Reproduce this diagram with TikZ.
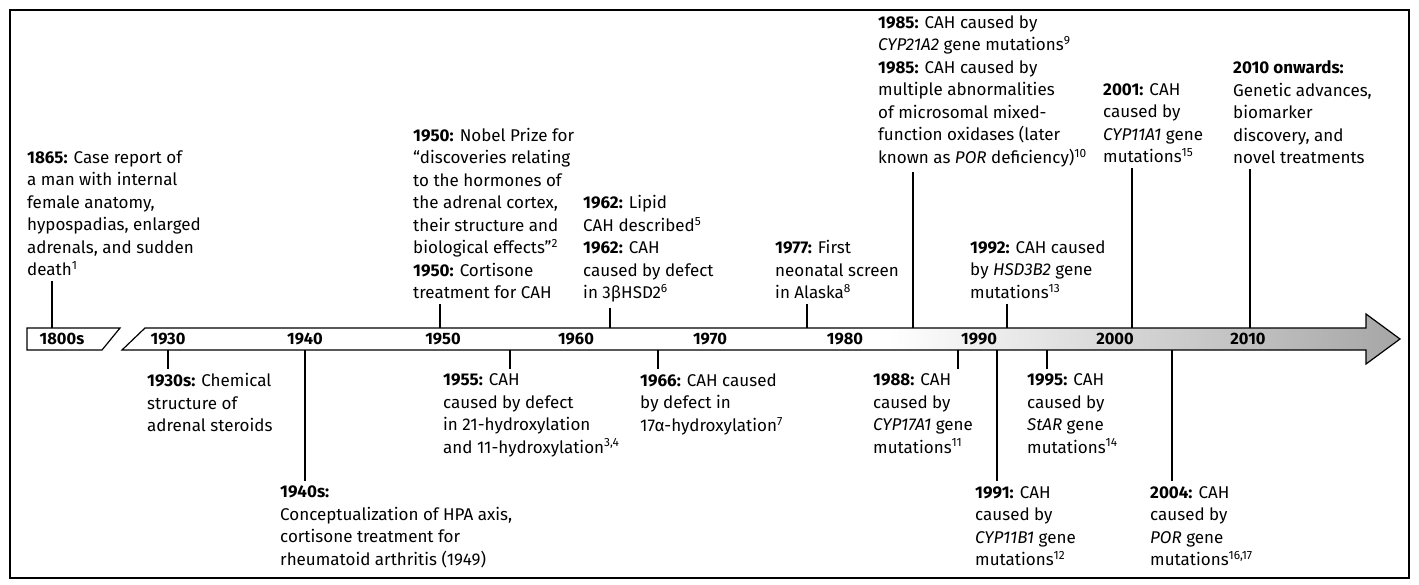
\documentclass[tikz,border=0pt]{standalone}
\usepackage{fontspec}
\setmainfont{Fira Sans}
\pgfdeclarehorizontalshading{barshade}{100bp}{color(0bp)=(white); color(25bp)=(white); color(55bp)=(white); color(75bp)=(black!35); color(100bp)=(black!35)}
\begin{document}
\begin{tikzpicture}[x=1pt,y=-1pt,
  txt/.style={anchor=north west, align=left, inner sep=0pt, font=\fontsize{17}{22.5}\selectfont},
  conn/.style={line width=1.6pt, black},
  ticklbl/.style={font=\fontsize{16.5}{20}\selectfont\bfseries, inner sep=0pt},
  barline/.style={line width=1.2pt, draw=black}
]
\useasboundingbox (0,0) rectangle (1419,584);
\draw[line width=1.5pt] (10,10) rectangle (1409,578);

% timeline bar
\draw[barline, fill=white] (27,328) -- (120,328) -- (102,350) -- (27,350) -- cycle;
\shadedraw[barline, shading=barshade] (145,328) -- (1366,328) -- (1366,314) -- (1400,339) -- (1366,364) -- (1366,350) -- (122,350) -- cycle;

% tick labels
\node[ticklbl] (k1800) at (62,339) {1800s};
\node[ticklbl] (k1930) at (168,339) {1930};
\node[ticklbl] (k1940) at (305,339) {1940};
\node[ticklbl] (k1950) at (443,339) {1950};
\node[ticklbl] (k1960) at (576,339) {1960};
\node[ticklbl] (k1970) at (710,339) {1970};
\node[ticklbl] (k1980) at (845,339) {1980};
\node[ticklbl] (k1990) at (979,339) {1990};
\node[ticklbl] (k2000) at (1115,339) {2000};
\node[ticklbl] (k2010) at (1248,339) {2010};

% anchor points on the bar
\coordinate (u1865) at (52,328);
\coordinate (u1950) at (440,328);
\coordinate (u1962) at (610,328);
\coordinate (u1977) at (807,328);
\coordinate (u1985) at (913,328);
\coordinate (u1992) at (1007,328);
\coordinate (u2001) at (1132,328);
\coordinate (u2010) at (1250,328);
\coordinate (d1930) at (168,350);
\coordinate (d1940) at (305,350);
\coordinate (d1955) at (510,350);
\coordinate (d1966) at (658,350);
\coordinate (d1988) at (958,350);
\coordinate (d1991) at (997,350);
\coordinate (d1995) at (1047,350);
\coordinate (d2004) at (1172,350);

% events above
\node[txt] (e1865) at (27,150.5) {\textbf{1865:} Case report of\\a man with internal\\female anatomy,\\hypospadias, enlarged\\adrenals, and sudden\\death\textsuperscript{1}};
\node[txt] (e1950) at (413,128) {\textbf{1950:} Nobel Prize for\\“discoveries relating\\to the hormones of\\the adrenal cortex,\\their structure and\\biological effects”\textsuperscript{2}\\\textbf{1950:} Cortisone\\treatment for CAH};
\node[txt] (e1962) at (583,195.5) {\textbf{1962:} Lipid\\CAH described\textsuperscript{5}\\\textbf{1962:} CAH\\caused by defect\\in 3βHSD2\textsuperscript{6}};
\node[txt] (e1977) at (775,240.5) {\textbf{1977:} First\\neonatal screen\\in Alaska\textsuperscript{8}};
\node[txt] (e1985) at (878,15.5) {\textbf{1985:} CAH caused by\\\textit{CYP21A2} gene mutations\textsuperscript{9}\\\textbf{1985:} CAH caused by\\multiple abnormalities\\of microsomal mixed-\\function oxidases (later\\known as \textit{POR} deficiency)\textsuperscript{10}};
\node[txt] (e1992) at (970,240.5) {\textbf{1992:} CAH caused\\by \textit{HSD3B2} gene\\mutations\textsuperscript{13}};
\node[txt] (e2001) at (1103,83) {\textbf{2001:} CAH\\caused by\\\textit{CYP11A1} gene\\mutations\textsuperscript{15}};
\node[txt] (e2010) at (1233,60.5) {\textbf{2010 onwards:}\\Genetic advances,\\biomarker\\discovery, and\\novel treatments};

% events below
\node[txt] (e1930) at (147,373.5) {\textbf{1930s:} Chemical\\structure of\\adrenal steroids};
\node[txt] (e1940) at (280,486) {\textbf{1940s:}\\Conceptualization of HPA axis,\\cortisone treatment for\\rheumatoid arthritis (1949)};
\node[txt] (e1955) at (443,373.5) {\textbf{1955:} CAH\\caused by defect\\in 21-hydroxylation\\and 11-hydroxylation\textsuperscript{3,4}};
\node[txt] (e1966) at (640,373.5) {\textbf{1966:} CAH caused\\by defect in\\17α-hydroxylation\textsuperscript{7}};
\node[txt] (e1988) at (873,373.5) {\textbf{1988:} CAH\\caused by\\\textit{CYP17A1} gene\\mutations\textsuperscript{11}};
\node[txt] (e1991) at (975,486) {\textbf{1991:} CAH\\caused by\\\textit{CYP11B1} gene\\mutations\textsuperscript{12}};
\node[txt] (e1995) at (1027,373.5) {\textbf{1995:} CAH\\caused by\\\textit{StAR} gene\\mutations\textsuperscript{14}};
\node[txt] (e2004) at (1150,486) {\textbf{2004:} CAH\\caused by\\\textit{POR} gene\\mutations\textsuperscript{16,17}};

% connectors above
\foreach \e in {1865,1950,1962,1977,1985,1992,2001,2010}
  \draw[conn] ([yshift=-5pt]e\e.south -| u\e) -- (u\e);
% connectors below
\foreach \e in {1930,1940,1955,1966,1988,1991,1995,2004}
  \draw[conn] (d\e) -- ([yshift=5pt]e\e.north -| d\e);
\end{tikzpicture}
\end{document}
